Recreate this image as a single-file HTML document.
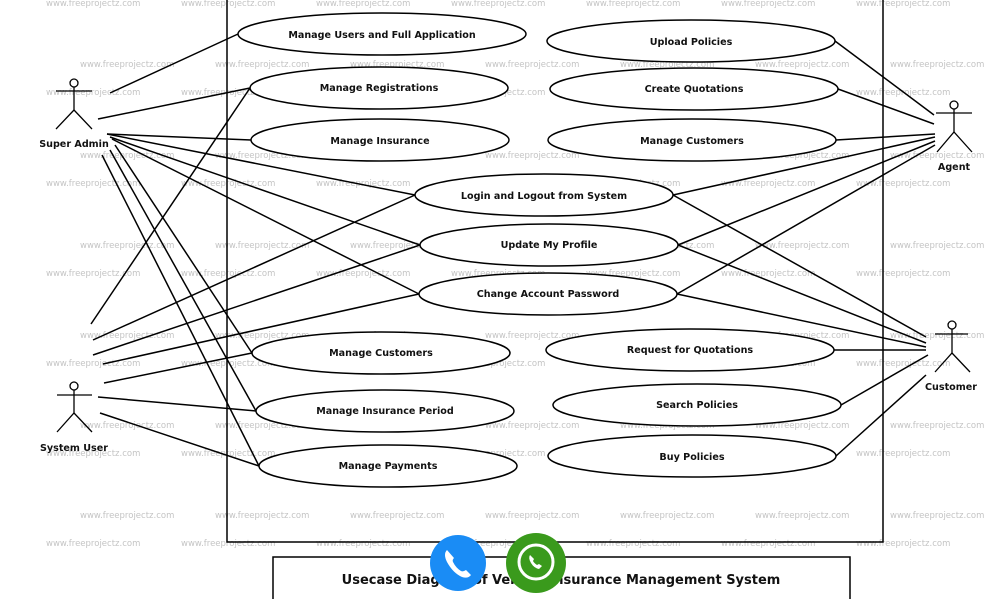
<!DOCTYPE html>
<html><head><meta charset="utf-8"><style>
html,body{margin:0;padding:0;background:#fff;}
svg{display:block;}
text{font-family:"DejaVu Sans","Liberation Sans",sans-serif;}
.w{font-size:8.5px;fill:#c4c4c4;font-family:"Liberation Sans",sans-serif;}
.u{font-size:9.6px;font-weight:bold;fill:#111;text-anchor:middle;}
</style></head><body>
<svg width="995" height="599" viewBox="0 0 995 599" xmlns="http://www.w3.org/2000/svg">
<g class="w">
<text x="46" y="6">www.freeprojectz.com</text><text x="181" y="6">www.freeprojectz.com</text><text x="316" y="6">www.freeprojectz.com</text><text x="451" y="6">www.freeprojectz.com</text><text x="586" y="6">www.freeprojectz.com</text><text x="721" y="6">www.freeprojectz.com</text><text x="856" y="6">www.freeprojectz.com</text>
<g id="r1"><text x="80" y="67">www.freeprojectz.com</text><text x="215" y="67">www.freeprojectz.com</text><text x="350" y="67">www.freeprojectz.com</text><text x="485" y="67">www.freeprojectz.com</text><text x="620" y="67">www.freeprojectz.com</text><text x="755" y="67">www.freeprojectz.com</text><text x="890" y="67">www.freeprojectz.com</text></g>
<g id="r2"><text x="46" y="95">www.freeprojectz.com</text><text x="181" y="95">www.freeprojectz.com</text><text x="316" y="95">www.freeprojectz.com</text><text x="451" y="95">www.freeprojectz.com</text><text x="586" y="95">www.freeprojectz.com</text><text x="721" y="95">www.freeprojectz.com</text><text x="856" y="95">www.freeprojectz.com</text></g>
<use href="#r1" y="91"/><use href="#r2" y="91"/>
<use href="#r1" y="181"/><use href="#r2" y="181"/>
<use href="#r1" y="271"/><use href="#r2" y="271"/>
<use href="#r1" y="361"/><use href="#r2" y="361"/>
<use href="#r1" y="451"/><use href="#r2" y="451"/>
</g>
<g stroke="#000" stroke-width="1.5" fill="none">
<polyline points="227,0 227,542 883,542 883,0"/>
<rect x="273" y="557" width="577" height="50"/>
<line x1="110" y1="93" x2="238" y2="34"/>
<line x1="98" y1="119" x2="250" y2="88"/>
<line x1="107" y1="134" x2="251" y2="140"/>
<line x1="107" y1="134" x2="415" y2="195"/>
<line x1="110" y1="137" x2="420" y2="245"/>
<line x1="112" y1="139" x2="419" y2="294"/>
<line x1="115" y1="145" x2="252" y2="353"/>
<line x1="110" y1="150" x2="256" y2="411"/>
<line x1="102" y1="155" x2="259" y2="466"/>
<line x1="91" y1="324" x2="250" y2="88"/>
<line x1="93" y1="340" x2="415" y2="195"/>
<line x1="93" y1="355" x2="420" y2="245"/>
<line x1="103" y1="364" x2="419" y2="294"/>
<line x1="104" y1="383" x2="252" y2="353"/>
<line x1="98" y1="397" x2="256" y2="411"/>
<line x1="100" y1="413" x2="259" y2="466"/>
<line x1="934" y1="115" x2="835" y2="41"/>
<line x1="934" y1="124" x2="838" y2="89"/>
<line x1="935" y1="134" x2="836" y2="140"/>
<line x1="935" y1="137" x2="673" y2="195"/>
<line x1="935" y1="141" x2="678" y2="245"/>
<line x1="935" y1="145" x2="677" y2="294"/>
<line x1="926" y1="337" x2="673" y2="195"/>
<line x1="926" y1="343" x2="678" y2="245"/>
<line x1="926" y1="347" x2="677" y2="294"/>
<line x1="926" y1="350" x2="834" y2="350"/>
<line x1="928" y1="355" x2="841" y2="405"/>
<line x1="926" y1="375" x2="836" y2="456"/>
</g>
<g stroke="#000" stroke-width="1.5" fill="#fff">
<ellipse cx="382" cy="34" rx="144" ry="21"/>
<ellipse cx="379" cy="88" rx="129" ry="21"/>
<ellipse cx="380" cy="140" rx="129" ry="21"/>
<ellipse cx="544" cy="195" rx="129" ry="21"/>
<ellipse cx="549" cy="245" rx="129" ry="21"/>
<ellipse cx="548" cy="294" rx="129" ry="21"/>
<ellipse cx="381" cy="353" rx="129" ry="21"/>
<ellipse cx="385" cy="411" rx="129" ry="21"/>
<ellipse cx="388" cy="466" rx="129" ry="21"/>
<ellipse cx="691" cy="41" rx="144" ry="21"/>
<ellipse cx="694" cy="89" rx="144" ry="21"/>
<ellipse cx="692" cy="140" rx="144" ry="21"/>
<ellipse cx="690" cy="350" rx="144" ry="21"/>
<ellipse cx="697" cy="405" rx="144" ry="21"/>
<ellipse cx="692" cy="456" rx="144" ry="21"/>
</g>
<g class="u">
<text x="382" y="38">Manage Users and Full Application</text>
<text x="379" y="91">Manage Registrations</text>
<text x="380" y="144">Manage Insurance</text>
<text x="544" y="199">Login and Logout from System</text>
<text x="549" y="248">Update My Profile</text>
<text x="548" y="297">Change Account Password</text>
<text x="381" y="356">Manage Customers</text>
<text x="385" y="414">Manage Insurance Period</text>
<text x="388" y="469">Manage Payments</text>
<text x="691" y="45">Upload Policies</text>
<text x="694" y="92">Create Quotations</text>
<text x="692" y="144">Manage Customers</text>
<text x="690" y="353">Request for Quotations</text>
<text x="697" y="408">Search Policies</text>
<text x="692" y="460">Buy Policies</text>
<text x="74" y="147">Super Admin</text>
<text x="74" y="451">System User</text>
<text x="954" y="170">Agent</text>
<text x="951" y="390">Customer</text>
</g>
<g stroke="#000" stroke-width="1.3" fill="none">
<circle cx="74" cy="83" r="4"/><line x1="56" y1="91" x2="92" y2="91"/><line x1="74" y1="87" x2="74" y2="110"/><polyline points="56,129 74,110 92,129"/>
<circle cx="74" cy="386" r="4"/><line x1="57" y1="395" x2="92" y2="395"/><line x1="74" y1="390" x2="74" y2="413"/><polyline points="57,432 74,413 92,432"/>
<circle cx="954" cy="105" r="4"/><line x1="936" y1="113" x2="972" y2="113"/><line x1="954" y1="109" x2="954" y2="132"/><polyline points="937,152 954,132 972,152"/>
<circle cx="952" cy="325" r="4"/><line x1="935" y1="334" x2="968" y2="334"/><line x1="952" y1="329" x2="952" y2="353"/><polyline points="935,372 952,353 970,372"/>
</g>
<text x="561" y="584" text-anchor="middle" style="font-size:13px;font-weight:bold;fill:#111;">Usecase Diagram of Vehicle Insurance Management System</text>
<circle cx="458" cy="563" r="28" fill="#1a8cf5"/>
<path d="M447,550 q-4,4 0,12 q6,11 15,15 q6,2 9,-2 l-5,-5 q-3,2 -5,1 q-5,-3 -8,-9 q-1,-2 1,-4 z" fill="#fff"/>
<circle cx="536" cy="563" r="30" fill="#3a9a1c"/>
<circle cx="536" cy="562" r="17" fill="none" stroke="#fff" stroke-width="3"/>
<path d="M530,555 q-2,3 1,8 q3,5 8,6 l3,-3 l-3,-2 l-2,1 q-3,-2 -4,-4 l1,-2 z" fill="#fff"/>
</svg>
</body></html>
